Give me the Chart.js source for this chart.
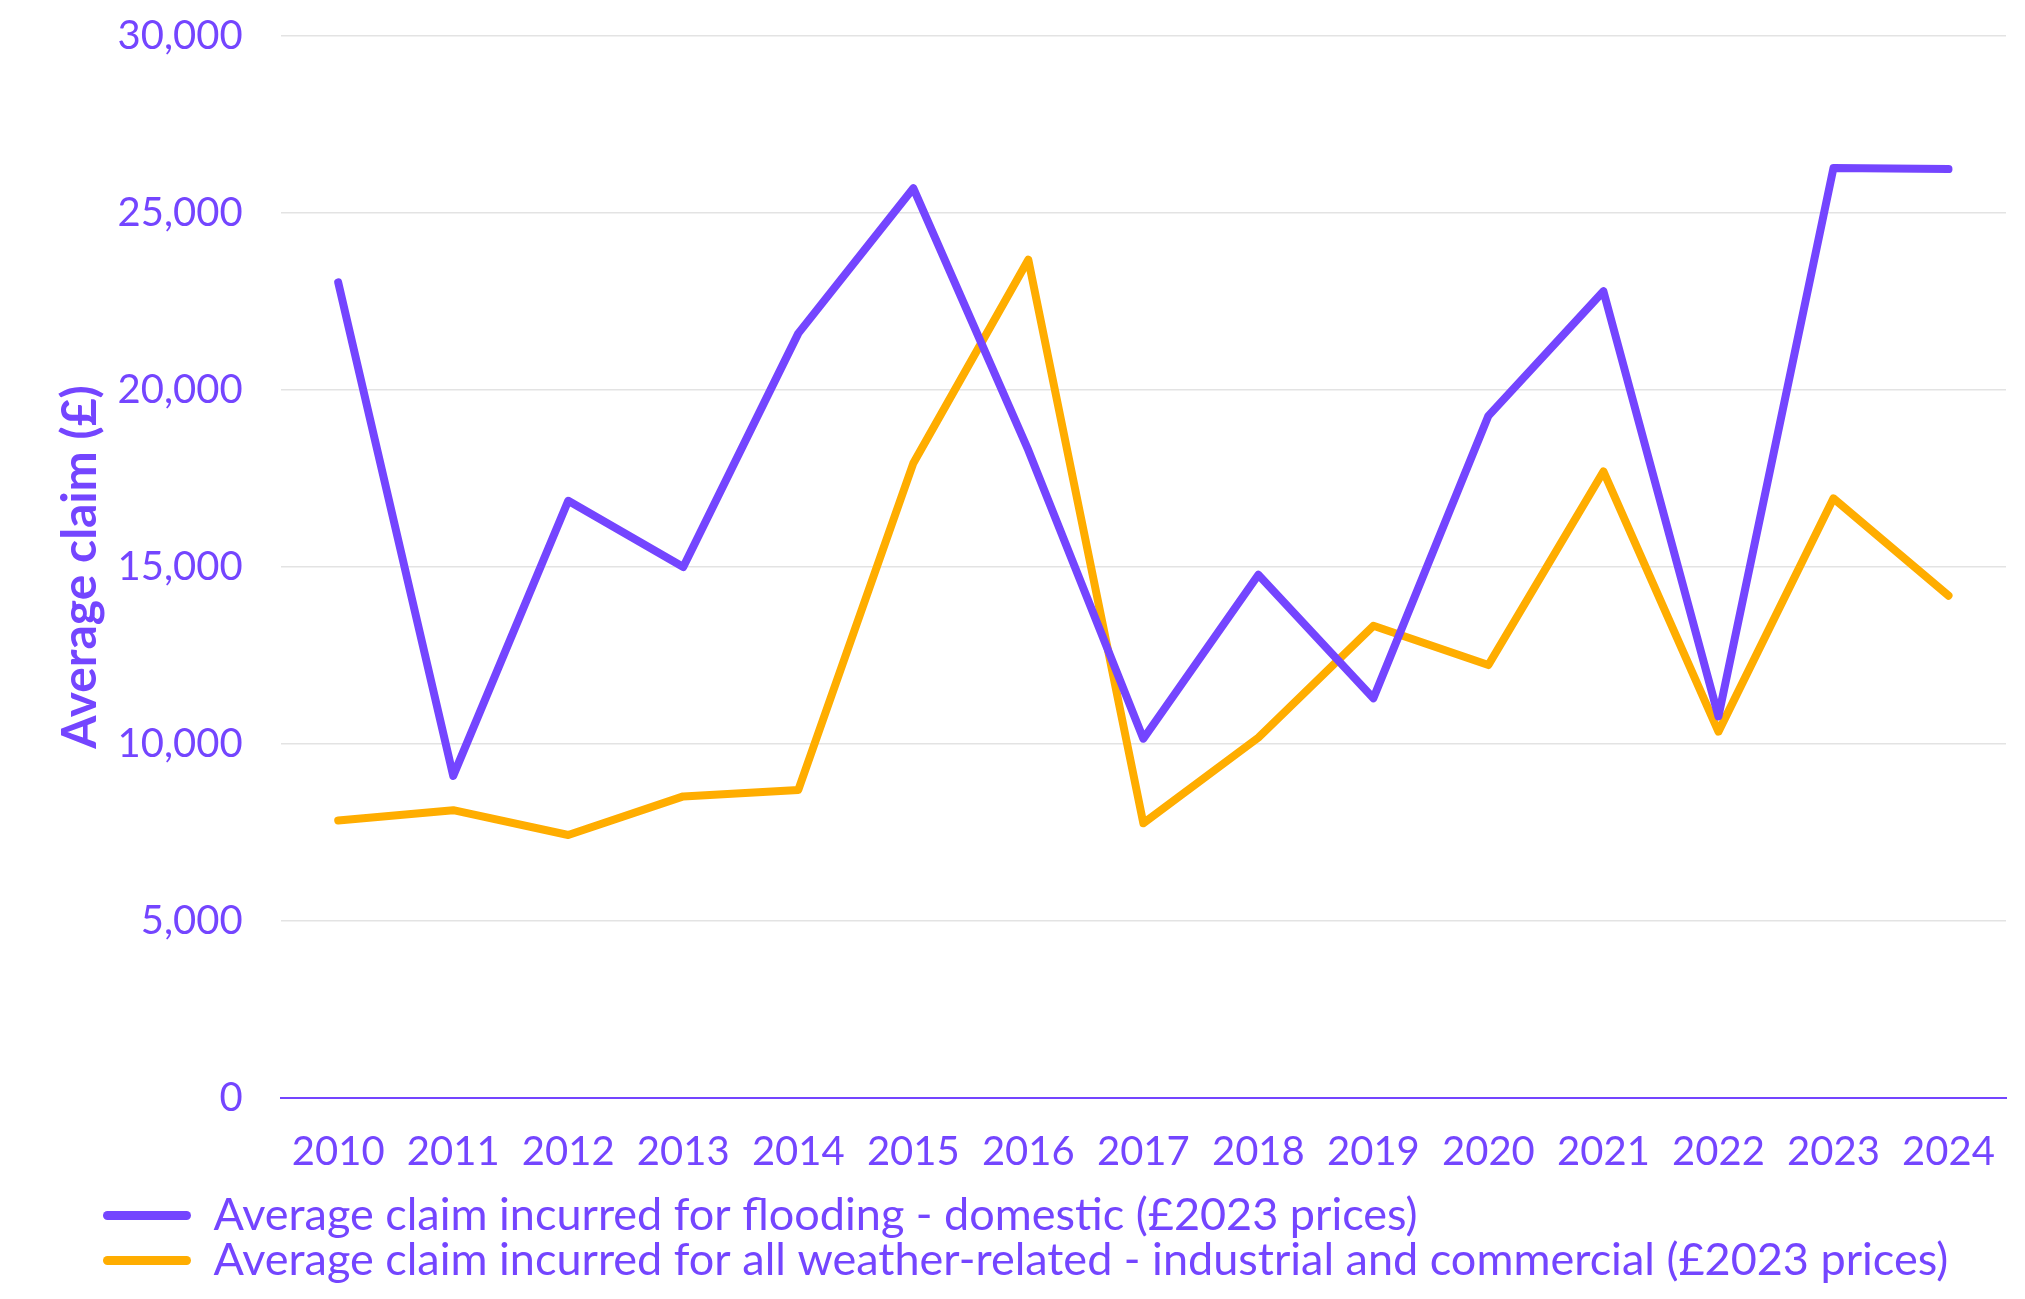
<!DOCTYPE html>
<html>
<head>
<meta charset="utf-8">
<script src="https://cdn.jsdelivr.net/npm/chart.js@4.4.1/dist/chart.umd.min.js"></script>
<style>
  html, body { margin: 0; padding: 0; background: #fff; }
  #wrap { width: 2025px; height: 1299px; }
</style>
</head>
<body>
<div id="wrap"><canvas id="chartClaims"></canvas></div>
<script>
const years = ['2010', '2011', '2012', '2013', '2014', '2015', '2016', '2017', '2018', '2019', '2020', '2021', '2022', '2023', '2024'];
const floodingDomestic = [23040, 9100, 16870, 15000, 21600, 25700, 18300, 10150, 14780, 11290, 19270, 22790, 10780, 26270, 26240];
const weatherCommercial = [7840, 8130, 7430, 8520, 8700, 17930, 23680, 7760, 10180, 13340, 12230, 17700, 10350, 16940, 14190];
const seriesNames = [
  'Average claim incurred for flooding - domestic (£2023 prices)',
  'Average claim incurred for all weather-related - industrial and commercial (£2023 prices)'
];
const yTitle = 'Average claim (£)';
const yMin = 0, yMax = 30000, yStep = 5000;

const PURPLE = '#7445FF';
const ORANGE = '#FFAD00';

Chart.defaults.font.family = 'Lato, "Open Sans", sans-serif';
Chart.defaults.color = PURPLE;

// legend rows start indented under the axis title, not at the canvas edge
const legendIndent = {
  id: 'legendIndent',
  afterLayout(chart) { if (chart.legend) chart.legend.left = 103; }
};

const line = (label, data, color) => ({
  label, data,
  borderColor: color, backgroundColor: color,
  borderWidth: 8, borderJoinStyle: 'round', borderCapStyle: 'round',
  pointRadius: 0, pointHoverRadius: 0, tension: 0, fill: false
});

new Chart(document.getElementById('chartClaims'), {
  type: 'line',
  data: {
    labels: years,
    datasets: [
      line(seriesNames[0], floodingDomestic, PURPLE),
      line(seriesNames[1], weatherCommercial, ORANGE)
    ]
  },
  plugins: [legendIndent],
  options: {
    responsive: true, maintainAspectRatio: false, animation: false,
    layout: { padding: { top: 36, right: 19, bottom: 6, left: 52 } },
    plugins: {
      tooltip: { enabled: false },
      legend: {
        position: 'bottom', align: 'start',
        labels: {
          color: PURPLE, font: { size: 45 }, padding: 0,
          boxWidth: 88, boxHeight: 9, useBorderRadius: true, borderRadius: 4.5,
          generateLabels: chart => Chart.defaults.plugins.legend.labels.generateLabels(chart)
            .map(l => ({ ...l, lineWidth: 0, fillStyle: l.strokeStyle }))
        }
      }
    },
    scales: {
      x: {
        offset: true,
        // invisible tick marks give the label gap (tick padding is counted twice in fit)
        grid: { color: 'transparent', drawOnChartArea: false, drawTicks: true, tickLength: 13, tickColor: 'transparent' },
        border: { color: PURPLE, width: 2 },
        ticks: { color: PURPLE, font: { size: 40, lineHeight: 2.05 }, padding: 0, maxRotation: 0, autoSkip: false }
      },
      y: {
        min: yMin, max: yMax,
        grid: { color: '#e3e3e3', lineWidth: 1.5, drawTicks: true, tickLength: 38, tickColor: 'transparent' },
        border: { display: false },
        ticks: { stepSize: yStep, color: PURPLE, font: { size: 40 }, padding: 0 },
        title: { display: true, text: yTitle, color: PURPLE, font: { size: 48, weight: 'bold' }, padding: { top: 0, bottom: 8 } }
      }
    }
  }
});
</script>
</body>
</html>
